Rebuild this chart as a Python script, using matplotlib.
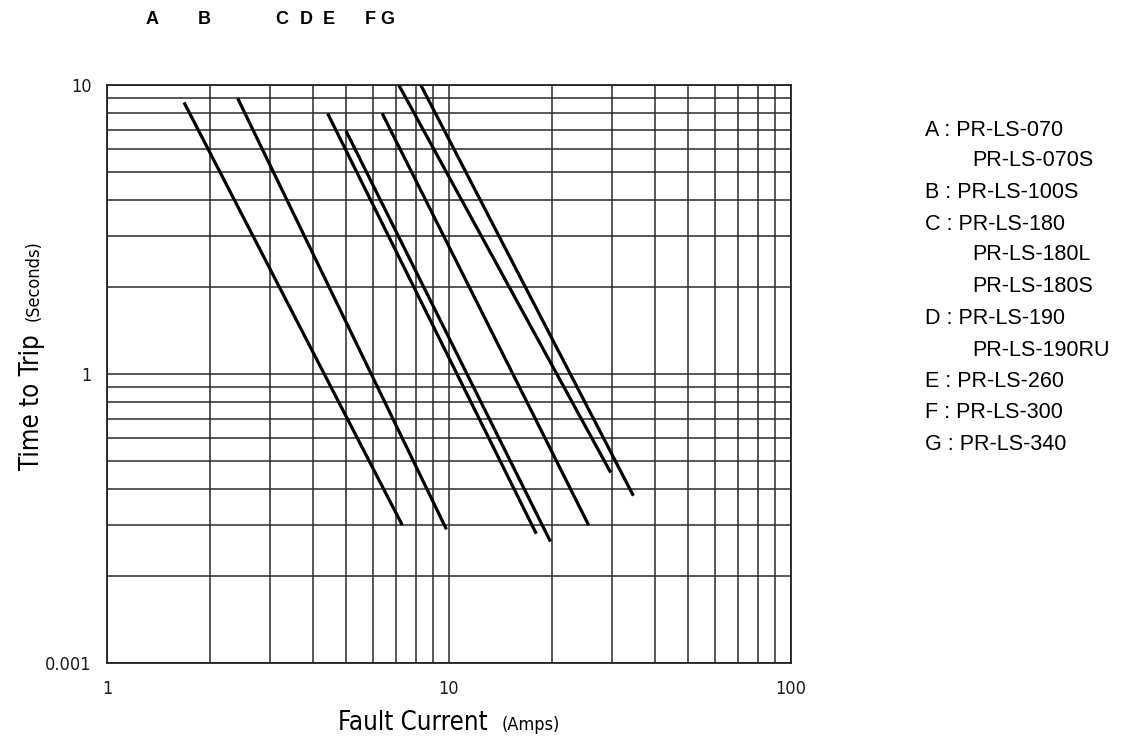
import numpy as np
import matplotlib
matplotlib.use('Agg')
import matplotlib.pyplot as plt
from matplotlib.ticker import LogLocator, FixedLocator, FixedFormatter, NullFormatter

# ---------------------------------------------------------------------------
# Data (straight lines on log-log paper)
# ---------------------------------------------------------------------------
curve_names = ['A', 'B', 'C', 'D', 'E', 'F', 'G']
amps_start = [1.68, 2.41, 4.42, 5.00, 6.38, 7.13, 8.27]
secs_start = [8.70, 9.00, 7.96, 6.93, 7.97, 10.0, 10.0]
amps_end = [7.30, 9.83, 18.0, 19.8, 25.6, 29.7, 34.6]
secs_end = [0.30, 0.29, 0.28, 0.263, 0.30, 0.456, 0.379]

x_ticks = [1, 10, 100]
x_tick_labels = ['1', '10', '100']
y_ticks = [0.1, 1, 10]
y_tick_labels = ['0.001', '1', '10']   # bottom label as printed on the original

legend_lines = [
    'A : PR-LS-070',
    'PR-LS-070S',
    'B : PR-LS-100S',
    'C : PR-LS-180',
    'PR-LS-180L',
    'PR-LS-180S',
    'D : PR-LS-190',
    'PR-LS-190RU',
    'E : PR-LS-260',
    'F : PR-LS-300',
    'G : PR-LS-340',
]

# ---------------------------------------------------------------------------
W, H = 1129, 743
fig = plt.figure(figsize=(W / 100, H / 100), dpi=100)


def fx(px):
    return px / W


def fy(py):
    return 1 - py / H


narrow = dict(family='DejaVu Sans', stretch='condensed')
arial = ['Liberation Sans', 'DejaVu Sans']

ax = fig.add_axes([fx(107), fy(663), fx(791) - fx(107), fy(85) - fy(663)])
ax.set_xscale('log')
ax.set_yscale('log')
ax.set_xlim(1, 100)
ax.set_ylim(0.1, 10)

# grid paper
ax.xaxis.set_major_locator(FixedLocator(x_ticks))
ax.xaxis.set_major_formatter(FixedFormatter(x_tick_labels))
ax.xaxis.set_minor_locator(LogLocator(base=10, subs=np.arange(2, 10)))
ax.xaxis.set_minor_formatter(NullFormatter())
ax.yaxis.set_major_locator(FixedLocator(y_ticks))
ax.yaxis.set_major_formatter(FixedFormatter(y_tick_labels))
ax.yaxis.set_minor_locator(LogLocator(base=10, subs=np.arange(2, 10)))
ax.yaxis.set_minor_formatter(NullFormatter())
ax.grid(True, which='both', color='#2a2a2a', linewidth=1.1)
ax.tick_params(which='both', length=0)
ax.tick_params(axis='x', pad=12)
ax.tick_params(axis='y', pad=11)
for lab in ax.get_xticklabels() + ax.get_yticklabels():
    lab.set_family(narrow['family'])
    lab.set_stretch(narrow['stretch'])
    lab.set_fontsize(13)
    lab.set_color('#1a1a1a')
for sp in ax.spines.values():
    sp.set_linewidth(1.3)
    sp.set_color('#222222')

# trip curves
for i in range(len(curve_names)):
    ax.plot([amps_start[i], amps_end[i]], [secs_start[i], secs_end[i]],
            color='black', linewidth=2.3, solid_capstyle='butt')

# curve letters across the top
letter_px = [152, 204, 282, 306, 329, 370, 387]
for name, px in zip(curve_names, letter_px):
    fig.text(fx(px), fy(20), name, ha='center', va='center',
             family=arial, fontweight='bold', fontsize=13)

# legend text block
row_y = [130, 161, 192, 224, 255, 287, 318, 350, 381, 413, 444]
for txt, py in zip(legend_lines, row_y):
    px = 925 if ':' in txt else 972
    fig.text(fx(px), fy(py), txt, ha='left', va='center',
             family=arial, fontsize=15.5)

# axis titles made of a large part and a small part
fig.canvas.draw()
r = fig.canvas.get_renderer()

t1 = fig.text(0, fy(730), 'Fault Current', fontsize=18.5,
              ha='left', va='baseline', **narrow)
t2 = fig.text(0, fy(730), '(Amps)', fontsize=13,
              ha='left', va='baseline', **narrow)
w1 = t1.get_window_extent(r).width
w2 = t2.get_window_extent(r).width
gap = 14
start = 449 - (w1 + gap + w2) / 2
t1.set_x(fx(start))
t2.set_x(fx(start + w1 + gap))

s1 = fig.text(fx(45), 0, 'Time to Trip', fontsize=18.5,
              rotation=90, ha='right', va='bottom', **narrow)
s2 = fig.text(fx(43), 0, '(Seconds)', fontsize=13,
              rotation=90, ha='right', va='bottom', **narrow)
h1 = s1.get_window_extent(r).height
h2 = s2.get_window_extent(r).height
bottom = 355 + (h1 + gap + h2) / 2
s1.set_y(fy(bottom))
s2.set_y(fy(bottom - h1 - gap))

fig.savefig('out.png', dpi=100)
